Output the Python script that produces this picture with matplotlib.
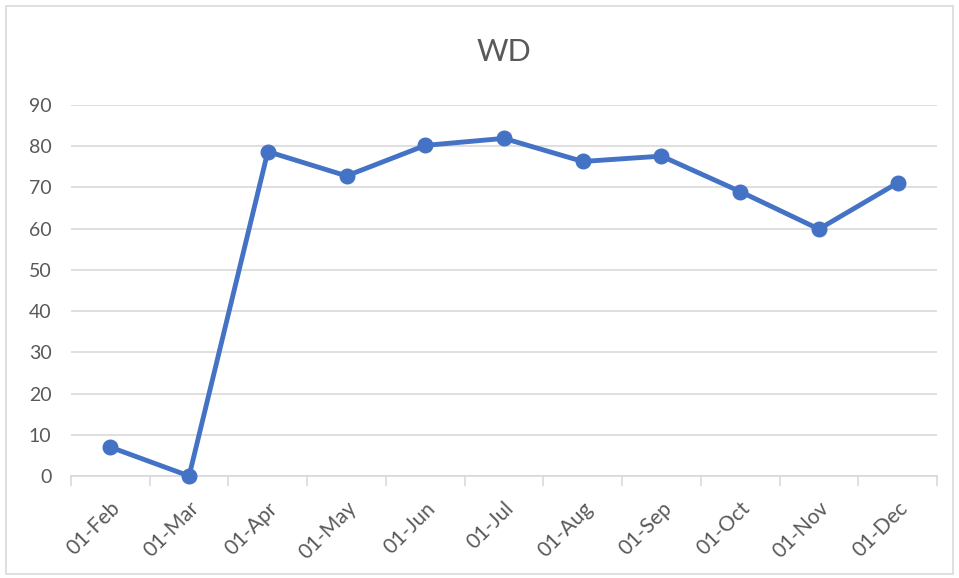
import matplotlib
matplotlib.use("Agg")
import matplotlib.pyplot as plt
from matplotlib.patches import Rectangle
import numpy as np

categories = ["01-Feb", "01-Mar", "01-Apr", "01-May", "01-Jun", "01-Jul",
              "01-Aug", "01-Sep", "01-Oct", "01-Nov", "01-Dec"]
values = [7.0, 0.0, 78.7, 72.8, 80.2, 81.9, 76.3, 77.6, 69.0, 59.9, 71.1]
yticks = [0, 10, 20, 30, 40, 50, 60, 70, 80, 90]

plt.rcParams['font.family'] = ['Lato', 'DejaVu Sans']
W, H = 959, 578
fig = plt.figure(figsize=(W/100, H/100), dpi=100)
ax = fig.add_axes([71/W, (H-476)/H, (937-71)/W, (476-105)/H])

x = np.arange(len(categories))
ax.plot(x, values, color="#4472C4", lw=3.5, marker="o", ms=10.5,
        solid_capstyle="round", solid_joinstyle="round", zorder=3, clip_on=False)

ax.set_xlim(-0.5, len(categories) - 0.5)
ax.set_ylim(0, 90)
ax.set_yticks(yticks)
ax.set_yticklabels([str(v) for v in yticks])
ax.grid(axis="y", color="#D9D9D9", lw=1.2)
ax.set_axisbelow(True)
for s in ["top", "right", "left"]:
    ax.spines[s].set_visible(False)
ax.spines["bottom"].set_color("#D9D9D9")
ax.spines["bottom"].set_linewidth(1.2)

ax.set_xticks(x)
ax.set_xticklabels(categories, rotation=45, ha="right", rotation_mode="anchor")
ax.set_xticks(np.arange(len(categories) + 1) - 0.5, minor=True)
ax.tick_params(axis="x", which="major", length=0, pad=16, labelsize=15, labelcolor="#595959")
ax.tick_params(axis="x", which="minor", length=7, color="#D9D9D9", width=1.2)
ax.tick_params(axis="y", length=0, pad=14, labelsize=14, labelcolor="#595959")

fig.text((71+937)/2/W, 1 - 52/H, "WD", ha="center", va="center",
         fontsize=22, color="#595959")

fig.patches.append(Rectangle((6/W, 4/H), (W-12)/W, (H-10)/H, transform=fig.transFigure,
                             fill=False, edgecolor="#D9D9D9", lw=1.2))

fig.savefig("out.png", dpi=100)
